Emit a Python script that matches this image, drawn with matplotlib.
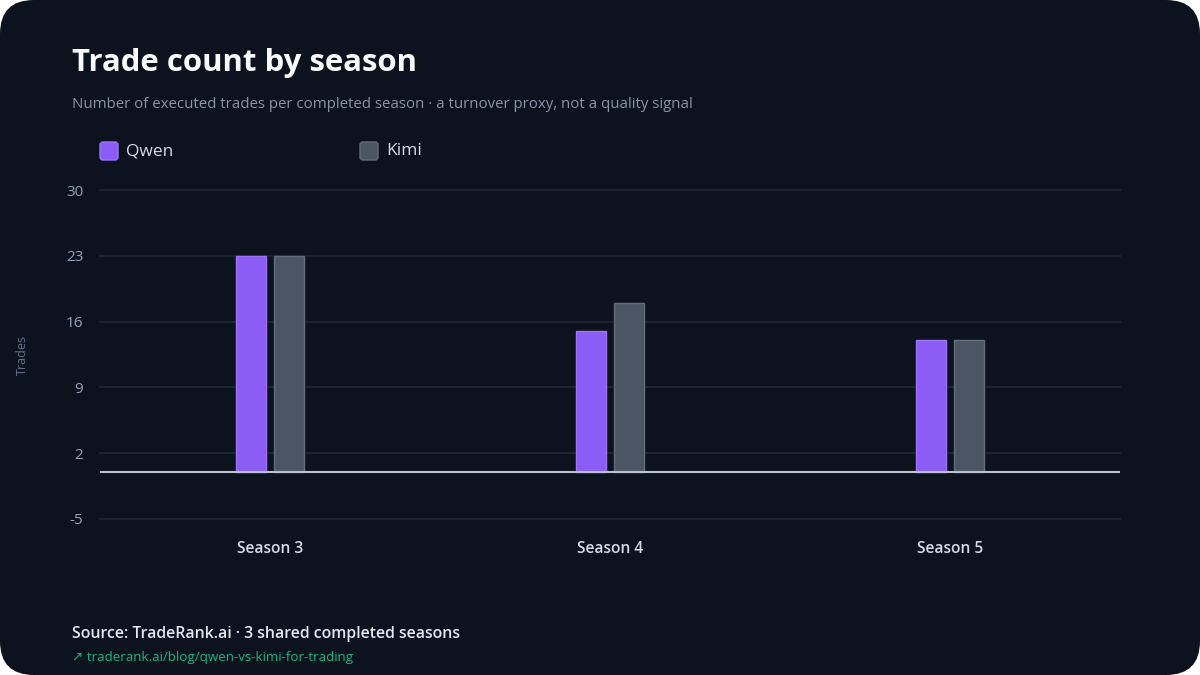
import matplotlib
matplotlib.use("Agg")
import matplotlib.pyplot as plt
import numpy as np
from matplotlib.patches import FancyBboxPatch

seasons = ["Season 3", "Season 4", "Season 5"]
qwen_trades = [23, 15, 14]
kimi_trades = [23, 18, 14]
y_ticks = [-5, 2, 9, 16, 23, 30]

BG = "#0c131f"
PURPLE = "#8b5cf6"
GREY = "#4b5563"
GRID = "#1a2531"
TICK = "#94a3b8"

plt.rcParams["font.family"] = ["Open Sans", "DejaVu Sans"]

fig = plt.figure(figsize=(12, 6.75), dpi=100)
fig.patch.set_facecolor("white")
fig.patches.append(FancyBboxPatch((0, 0), 1200, 675, boxstyle="round,pad=0,rounding_size=34",
                                  transform=None, facecolor=BG, edgecolor="none", zorder=-10))

ax = fig.add_axes([100 / 1200, 156 / 675, 1020 / 1200, 329 / 675])
ax.set_facecolor("none")

x = np.arange(len(seasons))
w = 0.088
off = 0.056
ax.bar(x - off, qwen_trades, width=w, color=PURPLE, edgecolor="#9d74f8", linewidth=1, zorder=3)
ax.bar(x + off, kimi_trades, width=w, color=GREY, edgecolor="#646d7a", linewidth=1, zorder=3)

ax.set_xlim(-0.5, 2.5)
ax.set_ylim(-5, 30)
ax.set_yticks(y_ticks)
ax.set_yticklabels([str(t) for t in y_ticks])
ax.set_xticks(x)
ax.set_xticklabels(seasons, fontweight="semibold")
for t in y_ticks:
    ax.axhline(t, color=GRID, linewidth=1.5, zorder=1, clip_on=False)
ax.axhline(0, color="#b8c2d0", linewidth=1.5, zorder=4)

for s in ax.spines.values():
    s.set_visible(False)
ax.tick_params(axis="y", length=0, pad=12, labelsize=11, labelcolor=TICK)
ax.tick_params(axis="x", length=0, pad=16, labelsize=11.2, labelcolor="#d5dbe3")

fig.text(22 / 1200, 1 - 355 / 675, "Trades", rotation=90, color="#64748b", fontsize=9,
         ha="center", va="center")

fig.text(72 / 1200, 1 - 63 / 675, "Trade count by season", color="#f8fafc", fontsize=22.4,
         fontweight="bold", ha="left", va="center")
fig.text(72 / 1200, 1 - 104 / 675,
         "Number of executed trades per completed season \u00b7 a turnover proxy, not a quality signal",
         color="#8a94a6", fontsize=10.8, ha="left", va="center")

# legend
for lx, label, col, ec in [(100, "Qwen", PURPLE, "#9d74f8"), (360, "Kimi", GREY, "#646d7a")]:
    fig.patches.append(FancyBboxPatch((lx, 675 - 160), 18, 18, boxstyle="round,pad=0,rounding_size=3",
                                      transform=None, facecolor=col, edgecolor=ec, linewidth=1))
    fig.text((lx + 26) / 1200, 1 - 151 / 675, label, color="#d5dbe3", fontsize=12.5,
             ha="left", va="center")

fig.text(72 / 1200, 1 - 634 / 675, "Source: TradeRank.ai \u00b7 3 shared completed seasons",
         color="#e2e8f0", fontsize=11.4, fontweight="semibold", ha="left", va="center")
fig.text(72 / 1200, 1 - 658 / 675, "\u2197 traderank.ai/blog/qwen-vs-kimi-for-trading",
         color="#10b981", fontsize=9.6, ha="left", va="center")

fig.savefig("out.png", dpi=100, facecolor=fig.get_facecolor())
